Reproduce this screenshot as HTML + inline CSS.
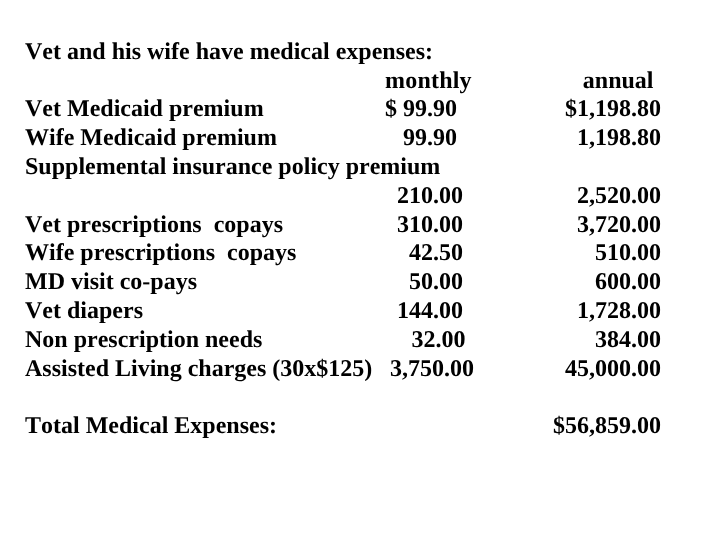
<!DOCTYPE html>
<html lang="en">
<head>
<meta charset="utf-8">
<title>Medical expenses</title>
<style>
html,body{margin:0;padding:0;background:#fff;}
body{width:720px;height:540px;position:relative;overflow:hidden;
 font-family:"Liberation Serif","Times New Roman",serif;font-weight:bold;font-size:24px;color:#000;
 font-kerning:none;text-rendering:geometricPrecision;line-height:29px;}
.t{position:absolute;white-space:pre;height:29px;}
.r{position:absolute;white-space:pre;height:29px;text-align:right;}
</style>
</head>
<body>
<span class="t" style="left:25px;top:38px">Vet and his wife have medical expenses:</span>
<span class="t" style="left:385px;top:67px;letter-spacing:0.2px">monthly</span>
<span class="r" style="right:66.5px;top:67px">annual</span>
<span class="t" style="left:25px;top:95px">Vet Medicaid premium</span>
<span class="t" style="left:385px;top:95px">$ 99.90</span>
<span class="r" style="right:59px;top:95px">$1,198.80</span>
<span class="t" style="left:25px;top:124px">Wife Medicaid premium</span>
<span class="t" style="left:403px;top:124px">99.90</span>
<span class="r" style="right:59px;top:124px">1,198.80</span>
<span class="t" style="left:25px;top:153px">Supplemental insurance policy premium</span>
<span class="t" style="left:397px;top:182px">210.00</span>
<span class="r" style="right:59px;top:182px">2,520.00</span>
<span class="t" style="left:25px;top:211px">Vet prescriptions  copays</span>
<span class="t" style="left:397px;top:211px">310.00</span>
<span class="r" style="right:59px;top:211px">3,720.00</span>
<span class="t" style="left:25px;top:239px">Wife prescriptions  copays</span>
<span class="t" style="left:409px;top:239px">42.50</span>
<span class="r" style="right:59px;top:239px">510.00</span>
<span class="t" style="left:25px;top:268px">MD visit co-pays</span>
<span class="t" style="left:409px;top:268px">50.00</span>
<span class="r" style="right:59px;top:268px">600.00</span>
<span class="t" style="left:25px;top:297px">Vet diapers</span>
<span class="t" style="left:397px;top:297px">144.00</span>
<span class="r" style="right:59px;top:297px">1,728.00</span>
<span class="t" style="left:25px;top:326px">Non prescription needs</span>
<span class="t" style="left:411.5px;top:326px">32.00</span>
<span class="r" style="right:59px;top:326px">384.00</span>
<span class="t" style="left:25px;top:355px">Assisted Living charges (30x$125)</span>
<span class="t" style="left:390px;top:355px">3,750.00</span>
<span class="r" style="right:59px;top:355px">45,000.00</span>
<span class="t" style="left:25px;top:412px">Total Medical Expenses:</span>
<span class="r" style="right:59px;top:412px">$56,859.00</span>
</body>
</html>
